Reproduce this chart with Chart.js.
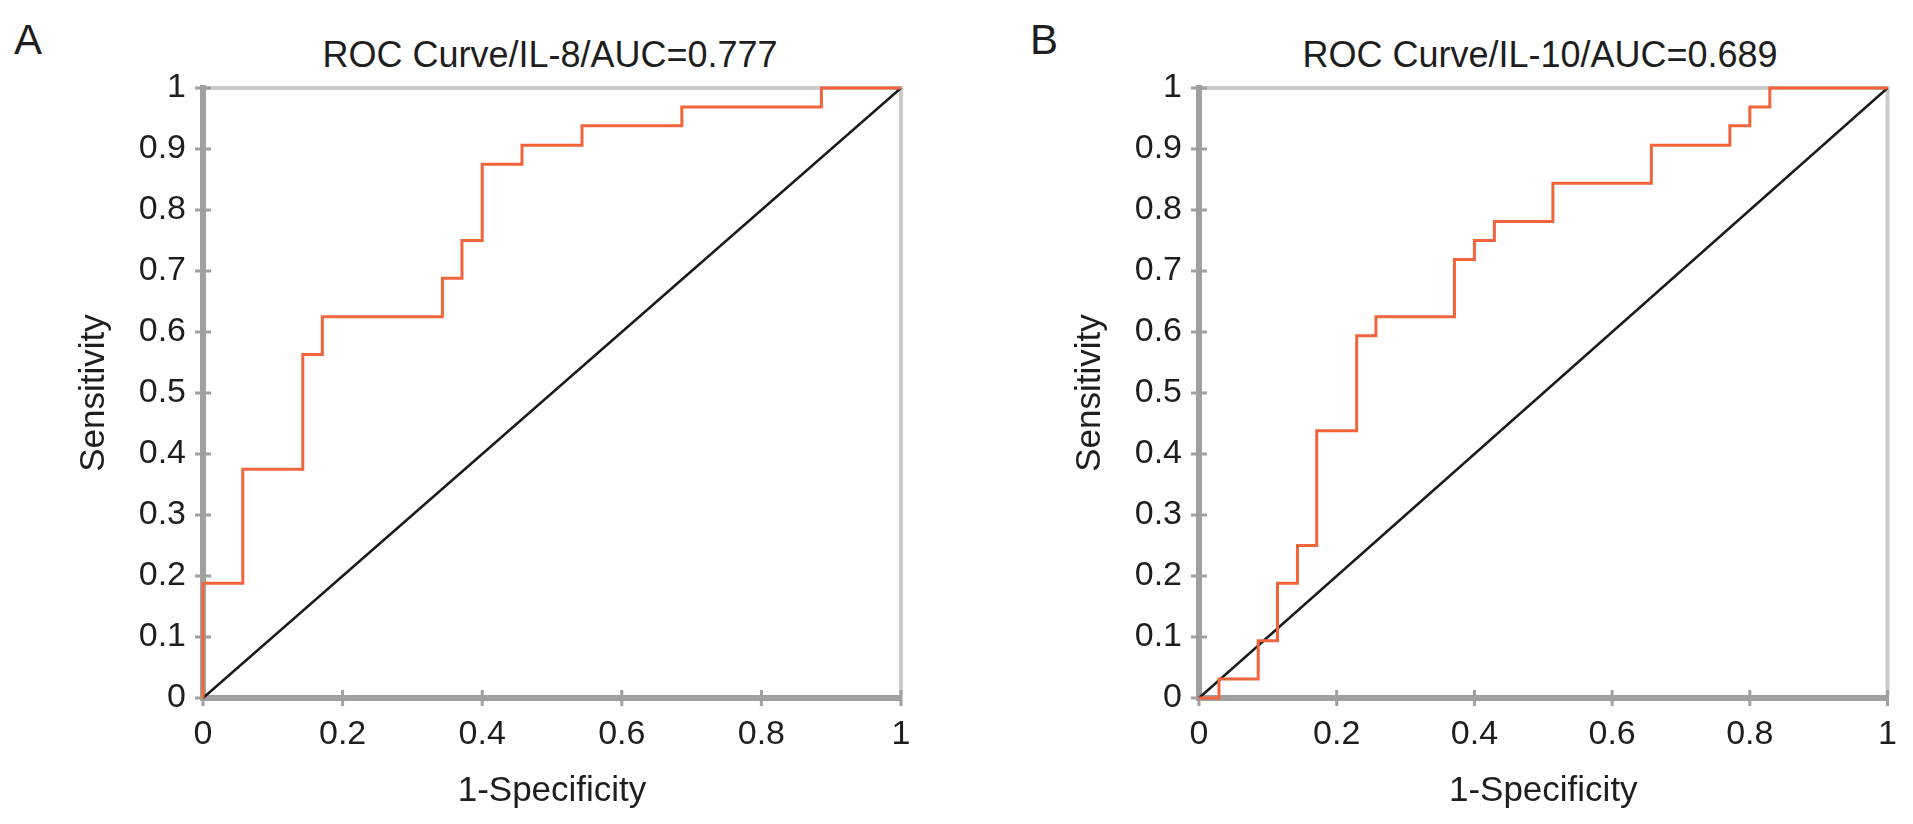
<!DOCTYPE html>
<html lang="en">
<head>
    <meta charset="UTF-8">
    <title>ROC Curves IL-8 / IL-10</title>
    <script src="https://cdn.jsdelivr.net/npm/chart.js"></script>
    <style>
        body {
            margin: 0;
            background: #fff;
            font-family: "Liberation Sans", Arial, sans-serif;
            color: #1e1e1e;
        }
        .panel {
            position: absolute;
            top: 0;
            height: 824px;
        }
        .letter {
            position: absolute;
            font-size: 42px;
            line-height: 42px;
        }
        .title {
            position: absolute;
            top: 36px;
            font-size: 36px;
            line-height: 38px;
            white-space: nowrap;
            transform: translateX(-50%);
        }
    </style>
</head>
<body>

    <div class="letter" style="left:14px; top:19px;">A</div>
    <div class="title" style="left:550px;">ROC Curve/IL-8/AUC=0.777</div>
    <div class="panel" style="left:0; width:956px;"><canvas id="rocA"></canvas></div>

    <div class="letter" style="left:1030px; top:19px;">B</div>
    <div class="title" style="left:1540px;">ROC Curve/IL-10/AUC=0.689</div>
    <div class="panel" style="left:956px; width:957px;"><canvas id="rocB"></canvas></div>

    <script>
        const xTicks = [0, 0.2, 0.4, 0.6, 0.8, 1];
        const yTicks = [0, 0.1, 0.2, 0.3, 0.4, 0.5, 0.6, 0.7, 0.8, 0.9, 1];

        // IL-8 curve corners (1-specificity, sensitivity)
        const fprA = [0, 0, 0.057, 0.057, 0.143, 0.143, 0.171, 0.171, 0.343, 0.343, 0.371, 0.371, 0.4, 0.4, 0.457, 0.457, 0.543, 0.543, 0.686, 0.686, 0.886, 0.886, 1];
        const tprA = [0, 0.188, 0.188, 0.375, 0.375, 0.563, 0.563, 0.625, 0.625, 0.688, 0.688, 0.75, 0.75, 0.875, 0.875, 0.906, 0.906, 0.938, 0.938, 0.969, 0.969, 1, 1];

        // IL-10 curve corners
        const fprB = [0, 0.029, 0.029, 0.086, 0.086, 0.114, 0.114, 0.143, 0.143, 0.171, 0.171, 0.229, 0.229, 0.257, 0.257, 0.371, 0.371, 0.4, 0.4, 0.429, 0.429, 0.514, 0.514, 0.657, 0.657, 0.771, 0.771, 0.8, 0.8, 0.829, 0.829, 1];
        const tprB = [0, 0, 0.031, 0.031, 0.094, 0.094, 0.188, 0.188, 0.25, 0.25, 0.438, 0.438, 0.594, 0.594, 0.625, 0.625, 0.719, 0.719, 0.75, 0.75, 0.781, 0.781, 0.844, 0.844, 0.906, 0.906, 0.938, 0.938, 0.969, 0.969, 1, 1];

        // chance line
        const refX = [0, 1];
        const refY = [0, 1];

        const toPoints = (xs, ys) => xs.map((x, i) => ({ x: x, y: ys[i] }));

        const axisGrey = '#a0a0a0';
        const frameGrey = '#cbcbcb';
        const textColor = '#1e1e1e';
        const fontFamily = '"Liberation Sans", Arial, sans-serif';

        // light top/right frame plus tick marks crossing the axes
        const framePlugin = {
            id: 'frame',
            beforeDatasetsDraw(chart) {
                const { ctx, chartArea: a, scales } = chart;
                ctx.save();
                ctx.strokeStyle = frameGrey;
                ctx.lineWidth = 4;
                ctx.beginPath();
                ctx.moveTo(a.left + 3, a.top);
                ctx.lineTo(a.right, a.top);
                ctx.lineTo(a.right, a.bottom - 3);
                ctx.stroke();

                ctx.strokeStyle = axisGrey;
                ctx.lineWidth = 3;
                ctx.beginPath();
                xTicks.forEach(v => {
                    const px = scales.x.getPixelForValue(v);
                    ctx.moveTo(px, a.bottom - 8);
                    ctx.lineTo(px, a.bottom + 8);
                });
                yTicks.forEach(v => {
                    const py = scales.y.getPixelForValue(v);
                    ctx.moveTo(a.left - 8, py);
                    ctx.lineTo(a.left + 8, py);
                });
                ctx.stroke();
                ctx.restore();
            }
        };

        const createChart = (id, fpr, tpr, yWidth, padRight) => {
            const ctx = document.getElementById(id).getContext('2d');
            return new Chart(ctx, {
                type: 'line',
                data: {
                    datasets: [{
                        data: toPoints(fpr, tpr),
                        borderColor: '#f2643c',
                        borderWidth: 3,
                        pointRadius: 0,
                        tension: 0,
                        clip: false
                    }, {
                        data: toPoints(refX, refY),
                        borderColor: '#1a1a1a',
                        borderWidth: 2.5,
                        pointRadius: 0,
                        tension: 0,
                        clip: false
                    }]
                },
                options: {
                    responsive: true,
                    maintainAspectRatio: false,
                    animation: false,
                    layout: {
                        padding: { left: 0, right: padRight, top: 88, bottom: 12 }
                    },
                    plugins: {
                        legend: { display: false },
                        tooltip: { enabled: false }
                    },
                    scales: {
                        x: {
                            type: 'linear',
                            min: 0,
                            max: 1,
                            afterBuildTicks: s => { s.ticks = xTicks.map(v => ({ value: v })); },
                            afterFit: s => { s.height = 114; },
                            grid: { display: false, drawTicks: false },
                            border: { color: axisGrey, width: 6 },
                            ticks: {
                                padding: 16,
                                color: textColor,
                                font: { family: fontFamily, size: 34 },
                                callback: v => String(v)
                            },
                            title: {
                                display: true,
                                text: '1-Specificity',
                                color: textColor,
                                padding: 0,
                                font: { family: fontFamily, size: 35 }
                            }
                        },
                        y: {
                            type: 'linear',
                            min: 0,
                            max: 1,
                            afterBuildTicks: s => { s.ticks = yTicks.map(v => ({ value: v })); },
                            afterFit: s => { s.width = yWidth; },
                            grid: { display: false, drawTicks: false },
                            border: { color: axisGrey, width: 6 },
                            ticks: {
                                padding: 17,
                                color: textColor,
                                font: { family: fontFamily, size: 34 },
                                callback: v => String(v)
                            },
                            title: {
                                display: true,
                                text: 'Sensitivity',
                                color: textColor,
                                padding: { top: yWidth - 130, bottom: 0 },
                                font: { family: fontFamily, size: 35 }
                            }
                        }
                    }
                },
                plugins: [framePlugin]
            });
        };

        createChart('rocA', fprA, tprA, 203, 55);
        createChart('rocB', fprB, tprB, 243, 17);
    </script>
</body>
</html>
